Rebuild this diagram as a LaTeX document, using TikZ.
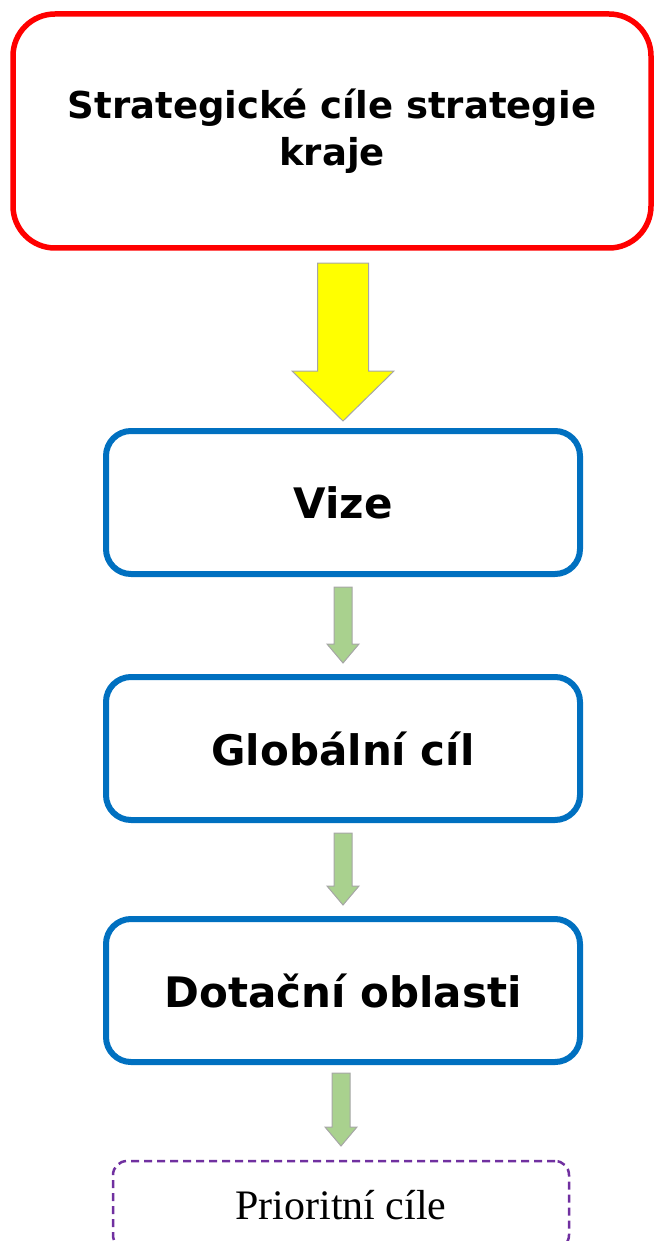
\documentclass[tikz,border=0pt]{standalone}
\usepackage{fontspec}
\setmainfont{DejaVu Sans}
\newfontfamily\priorfont{Liberation Serif}
\usetikzlibrary{calc}

\definecolor{boxred}{RGB}{255,0,0}
\definecolor{boxblue}{RGB}{0,112,192}
\definecolor{arrowyellow}{RGB}{255,255,0}
\definecolor{arrowgreen}{RGB}{169,209,142}
\definecolor{arrowgray}{RGB}{166,166,166}
\definecolor{dashpurple}{RGB}{112,48,160}

\def \boxwidth {474pt}
\def \boxheight {143pt}

\tikzset{
  levelbox/.style={draw=boxblue, line width=6pt, rounded corners=25pt, outer sep=0pt,
    minimum width=\boxwidth, minimum height=\boxheight,
    font=\fontsize{42}{50}\selectfont\bfseries},
  % fill, shaft half width, head half width, head length, top gap, bottom gap
  blockarrow/.style n args={6}{draw=arrowgray, fill=#1, line width=1pt,
    to path={let \p1=(\tikztostart), \p2=(\tikztotarget) in
      (\x2-#2,\y1-#5) -- (\x2+#2,\y1-#5) -- (\x2+#2,\y2+#6+#4) -- (\x2+#3,\y2+#6+#4)
      -- (\x2,\y2+#6) -- (\x2-#3,\y2+#6+#4) -- (\x2-#2,\y2+#6+#4) -- cycle}}
}

\begin{document}
\begin{tikzpicture}[x=1pt, y=-1pt]
\useasboundingbox (0,0) rectangle (654,1241);
\clip (0,0) rectangle (654,1241);

\node (kraj) at (332,131) [draw=boxred, line width=5.5pt, rounded corners=42pt, outer sep=0pt,
  minimum width=638pt, minimum height=234pt, align=center,
  font=\fontsize{37}{47}\selectfont\bfseries] {Strategické cíle strategie\\kraje};

\node[levelbox] (vize) at (343,502.5) {Vize};
\node[levelbox] (cil) at (343,748.5) {Globální cíl};
\node[levelbox] (dotace) at (343,990.5) {Dotační oblasti};

\node (priority) at (341,1205) [draw=dashpurple, line width=2.5pt, dash pattern=on 8pt off 5pt,
  rounded corners=14pt, outer sep=0pt, minimum width=456pt, minimum height=88pt,
  font=\priorfont\fontsize{42}{50}\selectfont] {Prioritní cíle};

\draw[blockarrow={arrowyellow}{25.5pt}{51pt}{50pt}{15pt}{10pt}] (kraj.south) to (vize.north);
\draw[blockarrow={arrowgreen}{9pt}{16pt}{19pt}{13pt}{14pt}] (vize.south) to (cil.north);
\draw[blockarrow={arrowgreen}{9pt}{16pt}{19pt}{13pt}{14pt}] (cil.south) to (dotace.north);
\draw[blockarrow={arrowgreen}{9pt}{16pt}{19pt}{11pt}{15pt}] (dotace.south) to (priority.north);
\end{tikzpicture}
\end{document}
